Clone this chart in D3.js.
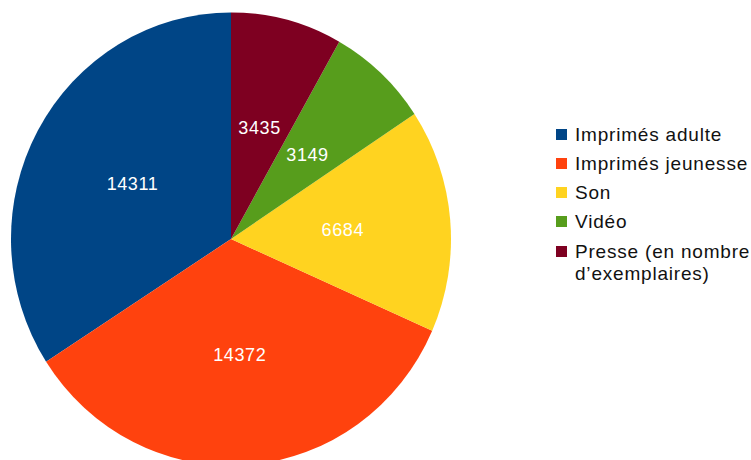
<!DOCTYPE html>
<html>
<head>
<meta charset="utf-8">
<script src="https://cdn.jsdelivr.net/npm/d3@7"></script>
<style>
  body { margin: 0; background: #fff; }
  svg { display: block; font-family: "Liberation Sans", Arial, sans-serif; }
</style>
</head>
<body>
<div id="chart"></div>
<script>
// Données
const categories = ["Imprimés adulte", "Imprimés jeunesse", "Son", "Vidéo", "Presse (en nombre\nd’exemplaires)"];
const values = [14311, 14372, 6684, 3149, 3435];
const colors = ["#004586", "#ff420e", "#ffd320", "#579d1c", "#7e0021"];

const W = 751, H = 460;
const cx = 231, cy = 239, r = 220;

const svg = d3.select("#chart")
  .append("svg")
    .attr("width", W)
    .attr("height", H);

const data = categories.map((c, i) => ({ cat: c, val: values[i], col: colors[i] }));

// sens anti-horaire depuis midi
const pie = d3.pie()
  .sort(null)
  .value(d => d.val)
  .startAngle(0)
  .endAngle(-2 * Math.PI);

const arc = d3.arc().innerRadius(0).outerRadius(r);
const labelArc = d3.arc().innerRadius(r * 0.51).outerRadius(r * 0.51);

const g = svg.append("g")
  .attr("transform", `translate(${cx},${cy}) scale(1,1.03)`);

const arcs = pie(data);

g.selectAll("path")
  .data(arcs)
  .enter()
  .append("path")
    .attr("d", arc)
    .attr("fill", d => d.data.col);

g.selectAll("text.label")
  .data(arcs)
  .enter()
  .append("text")
    .attr("class", "label")
    .attr("transform", d => {
      const [x, y] = labelArc.centroid(d);
      return `translate(${x},${y}) scale(1,${1 / 1.03})`;
    })
    .attr("text-anchor", "middle")
    .attr("dy", "0.35em")
    .style("font-size", "18px")
    .style("letter-spacing", "0.6px")
    .style("fill", "#fff")
    .text(d => d.data.val);

// Légende
const legend = svg.append("g")
  .attr("transform", "translate(556,134)");

const rowY = [0, 29, 58, 87, 117];

const item = legend.selectAll("g.item")
  .data(data)
  .enter()
  .append("g")
    .attr("class", "item")
    .attr("transform", (d, i) => `translate(0,${rowY[i]})`);

item.append("rect")
  .attr("x", 0)
  .attr("y", -5)
  .attr("width", 11)
  .attr("height", 11)
  .attr("fill", d => d.col);

item.append("text")
  .style("font-size", "19px")
  .style("letter-spacing", "0.8px")
  .style("fill", "#111")
  .selectAll("tspan")
  .data(d => d.cat.split("\n"))
  .enter()
  .append("tspan")
    .attr("x", 19)
    .attr("dy", (t, j) => j === 0 ? "0.35em" : "1.2em")
    .text(t => t);
</script>
</body>
</html>
